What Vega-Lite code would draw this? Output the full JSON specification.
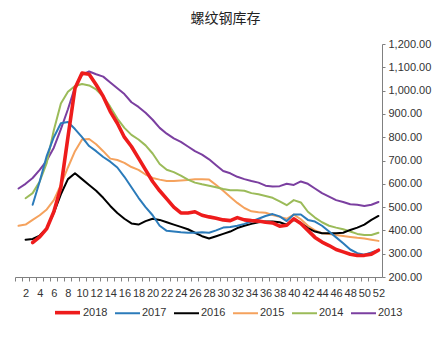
{
  "$schema": "https://vega.github.io/schema/vega-lite/v6.json",
  "autosize": {"type": "none"},
  "width": 367,
  "height": 233,
  "padding": {"left": 15, "top": 44, "right": 62, "bottom": 62},
  "background": "white",
  "config": {"view": {"stroke": null}, "font": "Liberation Sans"},
  "title": {
    "text": "螺纹钢库存",
    "font": "Noto Sans CJK SC",
    "fontSize": 14,
    "fontWeight": "normal",
    "color": "#222222",
    "anchor": "middle",
    "frame": "group",
    "dx": 27,
    "offset": 12
  },
  "data": {
    "values": [
      {"week": 1, "2018": null, "2017": null, "2016": null, "2015": 420, "2014": null, "2013": 580},
      {"week": 2, "2018": null, "2017": null, "2016": 360, "2015": 425, "2014": 538, "2013": 600},
      {"week": 3, "2018": 348, "2017": 510, "2016": 363, "2015": 445, "2014": 560, "2013": 625},
      {"week": 4, "2018": 372, "2017": 610, "2016": 378, "2015": 465, "2014": 610, "2013": 660},
      {"week": 5, "2018": 408, "2017": 720, "2016": 410, "2015": 490, "2014": 690, "2013": 700},
      {"week": 6, "2018": 480, "2017": 800, "2016": 475, "2015": 530, "2014": 830, "2013": 755},
      {"week": 7, "2018": 585, "2017": 860, "2016": 555, "2015": 595, "2014": 945, "2013": 835},
      {"week": 8, "2018": 800, "2017": 865, "2016": 620, "2015": 670, "2014": 995, "2013": 920},
      {"week": 9, "2018": 1010, "2017": 835, "2016": 645, "2015": 740, "2014": 1020, "2013": 1015},
      {"week": 10, "2018": 1075, "2017": 800, "2016": 620, "2015": 790, "2014": 1028, "2013": 1068},
      {"week": 11, "2018": 1070, "2017": 762, "2016": 595, "2015": 792, "2014": 1022, "2013": 1082},
      {"week": 12, "2018": 1025, "2017": 740, "2016": 570, "2015": 770, "2014": 1005, "2013": 1070},
      {"week": 13, "2018": 975, "2017": 715, "2016": 540, "2015": 740, "2014": 975, "2013": 1060},
      {"week": 14, "2018": 910, "2017": 695, "2016": 505, "2015": 708, "2014": 930, "2013": 1035},
      {"week": 15, "2018": 860, "2017": 670, "2016": 475, "2015": 702, "2014": 880, "2013": 1010},
      {"week": 16, "2018": 800, "2017": 630, "2016": 450, "2015": 690, "2014": 840, "2013": 985},
      {"week": 17, "2018": 760, "2017": 585, "2016": 430, "2015": 672, "2014": 810, "2013": 950},
      {"week": 18, "2018": 710, "2017": 540, "2016": 425, "2015": 660, "2014": 790, "2013": 930},
      {"week": 19, "2018": 660, "2017": 500, "2016": 440, "2015": 640, "2014": 765, "2013": 905},
      {"week": 20, "2018": 610, "2017": 465, "2016": 450, "2015": 625, "2014": 730, "2013": 875},
      {"week": 21, "2018": 570, "2017": 420, "2016": 445, "2015": 618, "2014": 685, "2013": 840},
      {"week": 22, "2018": 535, "2017": 398, "2016": 435, "2015": 612, "2014": 660, "2013": 815},
      {"week": 23, "2018": 500, "2017": 395, "2016": 425, "2015": 612, "2014": 650, "2013": 795},
      {"week": 24, "2018": 475, "2017": 392, "2016": 415, "2015": 614, "2014": 635, "2013": 780},
      {"week": 25, "2018": 475, "2017": 390, "2016": 405, "2015": 616, "2014": 618, "2013": 760},
      {"week": 26, "2018": 480, "2017": 390, "2016": 390, "2015": 620, "2014": 605, "2013": 740},
      {"week": 27, "2018": 465, "2017": 392, "2016": 375, "2015": 620, "2014": 598, "2013": 725},
      {"week": 28, "2018": 458, "2017": 390, "2016": 365, "2015": 618, "2014": 592, "2013": 705},
      {"week": 29, "2018": 452, "2017": 400, "2016": 375, "2015": 595, "2014": 585, "2013": 680},
      {"week": 30, "2018": 445, "2017": 412, "2016": 385, "2015": 570, "2014": 578, "2013": 655},
      {"week": 31, "2018": 442, "2017": 415, "2016": 395, "2015": 543, "2014": 572, "2013": 645},
      {"week": 32, "2018": 455, "2017": 420, "2016": 410, "2015": 518, "2014": 572, "2013": 630},
      {"week": 33, "2018": 445, "2017": 428, "2016": 420, "2015": 496, "2014": 570, "2013": 620},
      {"week": 34, "2018": 442, "2017": 438, "2016": 428, "2015": 482, "2014": 560, "2013": 612},
      {"week": 35, "2018": 440, "2017": 450, "2016": 435, "2015": 478, "2014": 555, "2013": 605},
      {"week": 36, "2018": 435, "2017": 462, "2016": 438, "2015": 476, "2014": 548, "2013": 592},
      {"week": 37, "2018": 432, "2017": 470, "2016": 438, "2015": 466, "2014": 540, "2013": 588},
      {"week": 38, "2018": 418, "2017": 460, "2016": 435, "2015": 458, "2014": 525, "2013": 590},
      {"week": 39, "2018": 422, "2017": 440, "2016": 425, "2015": 450, "2014": 508, "2013": 600},
      {"week": 40, "2018": 450, "2017": 468, "2016": 445, "2015": 468, "2014": 530, "2013": 595},
      {"week": 41, "2018": 430, "2017": 468, "2016": 432, "2015": 448, "2014": 520, "2013": 610},
      {"week": 42, "2018": 400, "2017": 445, "2016": 410, "2015": 420, "2014": 480, "2013": 600},
      {"week": 43, "2018": 370, "2017": 438, "2016": 395, "2015": 400, "2014": 455, "2013": 580},
      {"week": 44, "2018": 350, "2017": 420, "2016": 388, "2015": 388, "2014": 435, "2013": 560},
      {"week": 45, "2018": 335, "2017": 395, "2016": 388, "2015": 385, "2014": 420, "2013": 545},
      {"week": 46, "2018": 318, "2017": 370, "2016": 388, "2015": 380, "2014": 412, "2013": 530},
      {"week": 47, "2018": 308, "2017": 345, "2016": 390, "2015": 376, "2014": 405, "2013": 522},
      {"week": 48, "2018": 298, "2017": 318, "2016": 402, "2015": 372, "2014": 395, "2013": 512},
      {"week": 49, "2018": 292, "2017": 302, "2016": 412, "2015": 368, "2014": 385, "2013": 510},
      {"week": 50, "2018": 293, "2017": 296, "2016": 425, "2015": 365, "2014": 380, "2013": 505},
      {"week": 51, "2018": 298, "2017": 305, "2016": 445, "2015": 360, "2014": 380, "2013": 510},
      {"week": 52, "2018": 315, "2017": 315, "2016": 462, "2015": 355, "2014": 390, "2013": 522}
    ]
  },
  "transform": [
    {"fold": ["2013", "2014", "2015", "2016", "2017", "2018"], "as": ["year", "v"]},
    {"filter": "isValid(datum.v)"}
  ],
  "mark": {"type": "line", "interpolate": "linear", "strokeCap": "round", "strokeJoin": "round"},
  "encoding": {
    "x": {
      "field": "week",
      "type": "quantitative",
      "scale": {"domain": [0.5, 52.5], "nice": false, "zero": false},
      "axis": {
        "title": null,
        "values": [1,2,3,4,5,6,7,8,9,10,11,12,13,14,15,16,17,18,19,20,21,22,23,24,25,26,27,28,29,30,31,32,33,34,35,36,37,38,39,40,41,42,43,44,45,46,47,48,49,50,51,52],
        "labelExpr": "datum.value % 2 === 0 ? datum.label : ''",
        "grid": false,
        "tickOffset": -3.53,
        "labelOffset": 3.53,
        "tickSize": 4,
        "tickColor": "#808080",
        "domainColor": "#808080",
        "labelFontSize": 11,
        "labelColor": "#333333",
        "labelPadding": 6,
        "labelFlush": false,
        "labelOverlap": false
      }
    },
    "y": {
      "field": "v",
      "type": "quantitative",
      "scale": {"domain": [200, 1200], "nice": false, "zero": false},
      "axis": {
        "orient": "right",
        "title": null,
        "values": [200, 300, 400, 500, 600, 700, 800, 900, 1000, 1100, 1200],
        "format": ",.2f",
        "grid": false,
        "tickSize": 3,
        "tickColor": "#808080",
        "domainColor": "#808080",
        "labelFontSize": 11,
        "labelColor": "#333333",
        "labelPadding": 3,
        "labelFlush": false
      }
    },
    "color": {
      "field": "year",
      "type": "nominal",
      "scale": {
        "domain": ["2018", "2017", "2016", "2015", "2014", "2013"],
        "range": ["#EE1C1C", "#2B7BBA", "#000000", "#F5A25D", "#9BBB59", "#7B3FA0"]
      },
      "legend": {
        "title": null,
        "orient": "none",
        "direction": "horizontal",
        "legendX": 38,
        "legendY": 254,
        "symbolType": "stroke",
        "symbolSize": 625,
        "labelFontSize": 11,
        "labelColor": "#333333",
        "labelOffset": 1,
        "columnPadding": 3
      }
    },
    "strokeWidth": {
      "field": "year",
      "type": "nominal",
      "scale": {
        "type": "ordinal",
        "domain": ["2018", "2017", "2016", "2015", "2014", "2013"],
        "range": [3.6, 2, 2, 2, 2, 2]
      },
      "legend": {
        "title": null,
        "orient": "none",
        "direction": "horizontal",
        "legendX": 38,
        "legendY": 254,
        "symbolType": "stroke",
        "symbolSize": 625,
        "labelFontSize": 11,
        "labelColor": "#333333",
        "labelOffset": 1,
        "columnPadding": 3
      }
    }
  }
}
